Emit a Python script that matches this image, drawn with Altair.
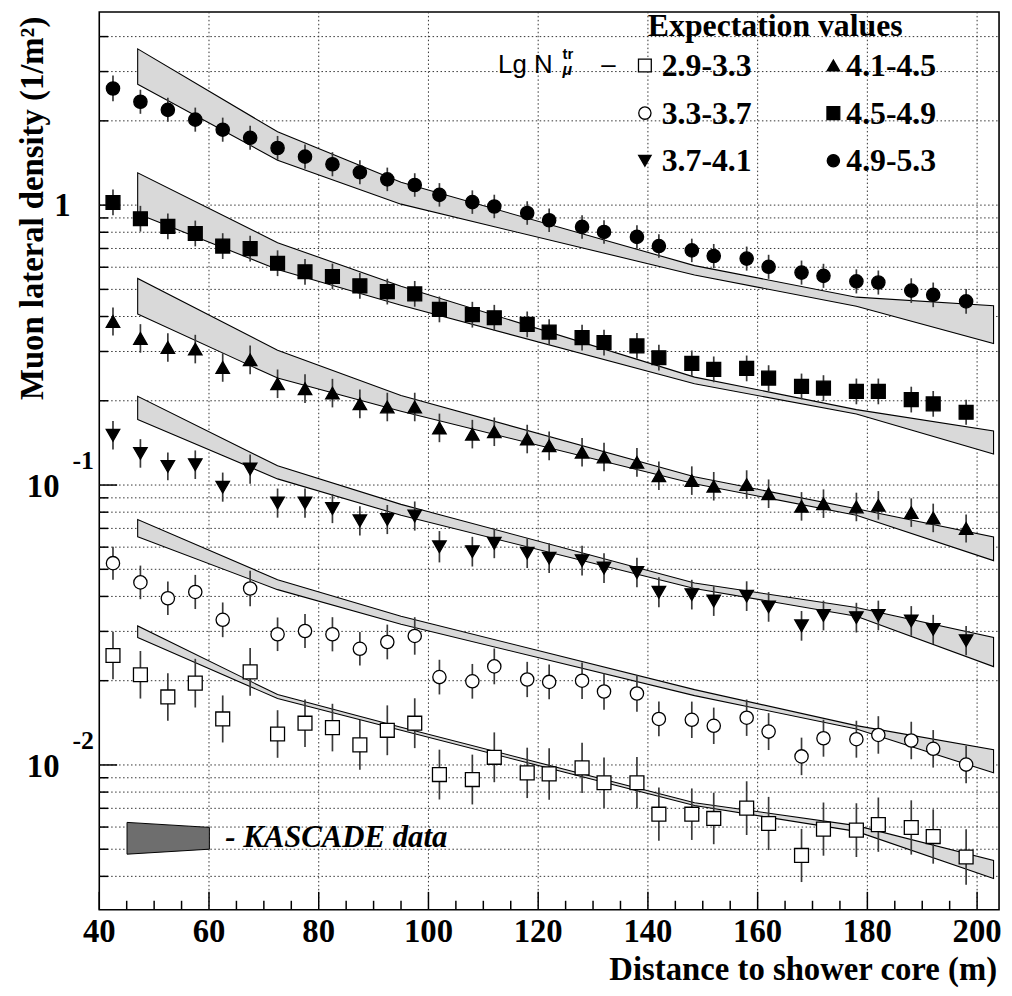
import altair as alt
import pandas as pd

# ---------------- data ----------------
dist = [42.5, 47.5, 52.5, 57.5, 62.5, 67.5, 72.5, 77.5, 82.5, 87.5, 92.5, 97.5,
        102, 108, 112, 118, 122, 128, 132, 138, 142, 148, 152, 158, 162, 168,
        172, 178, 182, 188, 192, 198]

rho_29_33 = [0.0246, 0.0210, 0.0175, 0.0196, 0.0146, 0.0215, 0.0129, 0.0141, 0.0136, 0.0118,
             0.0133, 0.0141, 0.00924, 0.00887, 0.01065, 0.00937, 0.00929, 0.00976, 0.00864,
             0.00864, 0.00667, 0.00667, 0.00644, 0.00701, 0.00618, 0.00475, 0.0059, 0.00585,
             0.00612, 0.00598, 0.00555, 0.00469]
rho_33_37 = [0.0526, 0.0449, 0.0394, 0.0415, 0.0330, 0.0427, 0.0293, 0.0301, 0.0293, 0.0260,
             0.0275, 0.0289, 0.0206, 0.0199, 0.0225, 0.0202, 0.0198, 0.0200, 0.0183, 0.0180,
             0.0146, 0.0145, 0.0138, 0.01475, 0.01316, 0.01073, 0.01246, 0.01236, 0.0128,
             0.01223, 0.01142, 0.01003]
rho_37_41 = [0.1505, 0.1297, 0.1166, 0.1182, 0.0983, 0.114, 0.0862, 0.0862, 0.0824, 0.0745,
             0.0753, 0.0775, 0.0602, 0.0578, 0.0619, 0.0571, 0.0548, 0.0537, 0.0505, 0.0487,
             0.0414, 0.0406, 0.0385, 0.0401, 0.0367, 0.0314, 0.0342, 0.0336, 0.0342, 0.0327,
             0.0305, 0.0278]
rho_41_45 = [0.384, 0.334, 0.310, 0.306, 0.263, 0.280, 0.230, 0.221, 0.213, 0.195, 0.190,
             0.190, 0.160, 0.152, 0.155, 0.146, 0.138, 0.131, 0.126, 0.1205, 0.108, 0.1037,
             0.099, 0.1004, 0.0931, 0.0839, 0.0858, 0.0835, 0.0846, 0.0797, 0.0763, 0.070]
rho_45_49 = [1.022, 0.894, 0.840, 0.792, 0.714, 0.699, 0.620, 0.578, 0.556, 0.515, 0.491,
             0.482, 0.424, 0.406, 0.396, 0.375, 0.352, 0.336, 0.323, 0.314, 0.285, 0.272,
             0.259, 0.261, 0.241, 0.225, 0.222, 0.216, 0.216, 0.202, 0.195, 0.182]
rho_49_53 = [2.61, 2.34, 2.19, 2.02, 1.86, 1.74, 1.60, 1.49, 1.40, 1.31, 1.236, 1.18, 1.088,
             1.025, 0.989, 0.937, 0.883, 0.836, 0.802, 0.770, 0.714, 0.689, 0.658, 0.644,
             0.602, 0.574, 0.559, 0.534, 0.529, 0.495, 0.478, 0.453]

# error bar half-lengths in decades (log10 units)
err_29_33 = [0.085, 0.085, 0.085, 0.087, 0.084, 0.085, 0.085, 0.085, 0.085, 0.089, 0.089,
             0.089, 0.089, 0.089, 0.089, 0.090, 0.092, 0.090, 0.090, 0.092, 0.095, 0.092,
             0.092, 0.096, 0.095, 0.095, 0.095, 0.096, 0.097, 0.097, 0.097, 0.099]
err_33_37 = [0.059, 0.060, 0.060, 0.061, 0.062, 0.063, 0.060, 0.061, 0.061, 0.060, 0.062,
             0.067, 0.062, 0.062, 0.064, 0.063, 0.062, 0.065, 0.065, 0.065, 0.062, 0.065,
             0.065, 0.065, 0.066, 0.067, 0.066, 0.066, 0.067, 0.067, 0.067, 0.067]
err_37_41 = [0.051, 0.051, 0.050, 0.051, 0.052, 0.052, 0.052, 0.052, 0.052, 0.052, 0.052,
             0.052, 0.056, 0.053, 0.053, 0.053, 0.053, 0.053, 0.053, 0.053, 0.054, 0.053,
             0.053, 0.053, 0.053, 0.053, 0.053, 0.053, 0.053, 0.053, 0.052, 0.052]
err_41_45 = [0.050, 0.051, 0.051, 0.051, 0.051, 0.051, 0.051, 0.051, 0.051, 0.051, 0.051,
             0.051, 0.051, 0.051, 0.051, 0.051, 0.051, 0.051, 0.051, 0.051, 0.051, 0.051,
             0.051, 0.051, 0.051, 0.051, 0.051, 0.051, 0.051, 0.051, 0.051, 0.050]
err_45_49 = [0.046, 0.046, 0.046, 0.046, 0.046, 0.046, 0.046, 0.046, 0.046, 0.046, 0.046,
             0.046, 0.046, 0.046, 0.046, 0.046, 0.046, 0.046, 0.046, 0.046, 0.046, 0.046,
             0.046, 0.046, 0.046, 0.046, 0.046, 0.046, 0.046, 0.046, 0.046, 0.045]
err_49_53 = [0.046, 0.043, 0.043, 0.043, 0.043, 0.043, 0.043, 0.043, 0.043, 0.043, 0.042,
             0.042, 0.042, 0.042, 0.042, 0.042, 0.042, 0.042, 0.042, 0.042, 0.042, 0.042,
             0.043, 0.043, 0.043, 0.043, 0.043, 0.043, 0.043, 0.044, 0.044, 0.044]

# KASCADE bands (lower / upper edge)
band_x = [47, 72.5, 95, 148.5, 178, 203]
band_49_53_hi = [3.615, 1.828, 1.206, 0.608, 0.469, 0.437]
band_49_53_lo = [2.704, 1.447, 1.008, 0.563, 0.435, 0.320]
band_45_49_hi = [1.305, 0.734, 0.513, 0.243, 0.186, 0.156]
band_45_49_lo = [0.932, 0.589, 0.439, 0.230, 0.1795, 0.129]
band_41_45_hi = [0.547, 0.303, 0.209, 0.107, 0.0823, 0.0653]
band_41_45_lo = [0.408, 0.241, 0.1835, 0.101, 0.078, 0.0537]
band_37_41_hi = [0.2074, 0.1172, 0.0853, 0.0447, 0.0365, 0.02855]
band_37_41_lo = [0.1715, 0.1052, 0.078, 0.0427, 0.034, 0.02246]
band_33_37_hi = [0.0753, 0.0459, 0.034, 0.01858, 0.01382, 0.01133]
band_33_37_lo = [0.0653, 0.0423, 0.0318, 0.01769, 0.01344, 0.00937]
band_29_33_hi = [0.03138, 0.01784, 0.01363, 0.00733, 0.00607, 0.00456]
band_29_33_lo = [0.02855, 0.01727, 0.0133, 0.00716, 0.00579, 0.00393]

series_labels = ["2.9-3.3", "3.3-3.7", "3.7-4.1", "4.1-4.5", "4.5-4.9", "4.9-5.3"]

x_tick_labels = [40, 60, 80, 100, 120, 140, 160, 180, 200]
x_grid = [60, 80, 100, 120, 140, 160, 180, 200]
y_major = [0.01, 0.1, 1]
y_label_mant = ["10", "10", "1"]
y_label_exp = ["-2", "-1", ""]
y_grid = [0.004, 0.005, 0.006, 0.007, 0.008, 0.009,
          0.01, 0.02, 0.03, 0.04, 0.05, 0.06, 0.07, 0.08, 0.09,
          0.1, 0.2, 0.3, 0.4, 0.5, 0.6, 0.7, 0.8, 0.9,
          1, 2, 3, 4]

# ---------------- chart ----------------
W, H = 907, 905
XS = alt.Scale(domain=[40, 204], nice=False, zero=False)
YS = alt.Scale(type="log", domain=[0.00304, 4.9], nice=False)
SERIF = "Liberation Serif"
SANS = "Liberation Sans"


def X(f):
    return alt.X(f, type="quantitative", scale=XS, axis=None)


def Y(f):
    return alt.Y(f, type="quantitative", scale=YS, axis=None)


layers = []

# dotted grid
grid_style = dict(color="#333333", strokeWidth=1, strokeDash=[1.5, 2.5])
layers.append(alt.Chart(pd.DataFrame({"x": x_grid})).mark_rule(**grid_style).encode(
    x=X("x"), y=alt.value(0), y2=alt.value(H)))
layers.append(alt.Chart(pd.DataFrame({"y": y_grid})).mark_rule(**grid_style).encode(
    y=Y("y"), x=alt.value(0), x2=alt.value(W)))

# bands
band_defs = [
    ("b1", band_29_33_lo, band_29_33_hi), ("b2", band_33_37_lo, band_33_37_hi),
    ("b3", band_37_41_lo, band_37_41_hi), ("b4", band_41_45_lo, band_41_45_hi),
    ("b5", band_45_49_lo, band_45_49_hi), ("b6", band_49_53_lo, band_49_53_hi),
]
rows = []
for name, lo, hi in band_defs:
    for xv, l, h in zip(band_x, lo, hi):
        rows.append({"band": name, "x": xv, "lo": l, "hi": h})
band_df = pd.DataFrame(rows)
layers.append(alt.Chart(band_df).mark_area(
    fill="#d9d9d9", stroke="black", strokeWidth=1.1, opacity=1, interpolate="linear"
).encode(x=X("x"), y=Y("lo"), y2="hi", detail="band:N"))

# data series
series_defs = [
    (rho_29_33, err_29_33, "square", False),
    (rho_33_37, err_33_37, "circle", False),
    (rho_37_41, err_37_41, "triangle-down", True),
    (rho_41_45, err_41_45, "triangle-up", True),
    (rho_45_49, err_45_49, "square", True),
    (rho_49_53, err_49_53, "circle", True),
]
SIZES = {"square": 196, "circle": 180, "triangle-up": 185, "triangle-down": 185}

for vals, errs, shape, filled in series_defs:
    df = pd.DataFrame({"x": dist, "y": vals, "e": errs})
    df["lo"] = df["y"] / (10 ** df["e"])
    df["hi"] = df["y"] * (10 ** df["e"])
    base = alt.Chart(df)
    layers.append(base.mark_rule(color="#3a3a3a", strokeWidth=1.7).encode(
        x=X("x"), y=Y("lo"), y2="hi"))
    layers.append(base.mark_point(
        shape=shape, size=SIZES[shape], filled=True,
        fill="black" if filled else "white", stroke="black",
        strokeWidth=1.3, opacity=1
    ).encode(x=X("x"), y=Y("y")))

# inward ticks
tick_style = dict(color="black", strokeWidth=1.5)
x_minor = [v for v in range(45, 204, 5) if v % 20 != 0]
layers.append(alt.Chart(pd.DataFrame({"x": x_tick_labels})).mark_rule(**tick_style).encode(
    x=X("x"), y=alt.value(H), y2=alt.value(H - 18)))
layers.append(alt.Chart(pd.DataFrame({"x": x_minor})).mark_rule(**tick_style).encode(
    x=X("x"), y=alt.value(H), y2=alt.value(H - 9)))
layers.append(alt.Chart(pd.DataFrame({"y": y_major})).mark_rule(**tick_style).encode(
    y=Y("y"), x=alt.value(0), x2=alt.value(18)))
y_minor = [v for v in y_grid if v not in y_major]
layers.append(alt.Chart(pd.DataFrame({"y": y_minor})).mark_rule(**tick_style).encode(
    y=Y("y"), x=alt.value(0), x2=alt.value(9)))

# axis labels
layers.append(alt.Chart(pd.DataFrame({"x": x_tick_labels, "t": [str(v) for v in x_tick_labels]}))
              .mark_text(font=SERIF, fontWeight="bold", fontSize=33, align="center",
                         baseline="alphabetic", color="black")
              .encode(x=X("x"), y=alt.value(H + 33), text="t:N"))
ylab = pd.DataFrame({"y": y_major, "m": y_label_mant, "e": y_label_exp})
layers.append(alt.Chart(ylab[ylab["e"] != ""]).mark_text(
    font=SERIF, fontWeight="bold", fontSize=33, align="right", baseline="alphabetic",
    dy=12, color="black").encode(y=Y("y"), x=alt.value(-40), text="m:N"))
layers.append(alt.Chart(ylab[ylab["e"] != ""]).mark_text(
    font=SERIF, fontWeight="bold", fontSize=26, align="left", baseline="alphabetic",
    dy=-16, color="black").encode(y=Y("y"), x=alt.value(-27), text="e:N"))
layers.append(alt.Chart(ylab[ylab["e"] == ""]).mark_text(
    font=SERIF, fontWeight="bold", fontSize=33, align="right", baseline="alphabetic",
    dy=11, color="black").encode(y=Y("y"), x=alt.value(-29), text="m:N"))


def txt(text, x, y, size, font=SERIF, weight="bold", style="normal", align="left", angle=0):
    return alt.Chart(pd.DataFrame({"t": [text]})).mark_text(
        font=font, fontWeight=weight, fontStyle=style, fontSize=size, align=align,
        baseline="alphabetic", angle=angle, color="black"
    ).encode(x=alt.value(x), y=alt.value(y), text="t:N")


def sym(shape, filled, x, y, size):
    return alt.Chart(pd.DataFrame({"k": [0]})).mark_point(
        shape=shape, size=size, filled=True, fill="black" if filled else "white",
        stroke="black", strokeWidth=1.3, opacity=1
    ).encode(x=alt.value(x), y=alt.value(y))


# titles
layers.append(txt("Muon lateral density (1/m²)", -57, 198, 33, align="center", angle=270))
layers.append(txt("Distance to shower core (m)", 905, 976, 33, align="right"))

# legend
layers.append(txt("Expectation values", 553, 24, 32))
layers.append(txt("Lg N", 402, 62, 26, font=SANS, weight="normal"))
layers.append(txt("tr", 467, 47, 15, font=SANS, weight="bold"))
layers.append(txt("μ", 467, 64, 16, font=SANS, weight="bold", style="italic"))
layers.append(txt("–", 506, 62, 26, font=SANS, weight="normal"))

leg_rows = [54, 102, 150]
leg_cols = [(550, 567), (740, 753)]
for i, (vals, errs, shape, filled) in enumerate(series_defs):
    col, row = divmod(i, 3)
    mx, tx = leg_cols[col]
    ry = leg_rows[row]
    layers.append(sym(shape, filled, mx, ry, SIZES[shape] * 0.85))
    layers.append(txt(series_labels[i], tx, ry + 10.5, 32))

# KASCADE swatch
layers.append(alt.Chart(pd.DataFrame({"k": [0]})).mark_point(
    shape="M-1,-0.386L1,-0.265L1,0.265L-1,0.386Z", size=83 * 83, filled=True,
    fill="#6e6e6e", stroke="black", strokeWidth=1, opacity=1
).encode(x=alt.value(69.5), y=alt.value(833)))
layers.append(txt("- KASCADE data", 127, 842, 31, style="italic"))

chart = alt.layer(*layers).properties(
    width=W, height=H,
    padding={"left": 92, "top": 0, "right": 5, "bottom": 80},
    autosize=alt.AutoSizeParams(type="none"),
).configure_view(stroke="black", strokeWidth=1.6)

chart.save("out.html", embed_options={"renderer": "svg", "actions": False})
